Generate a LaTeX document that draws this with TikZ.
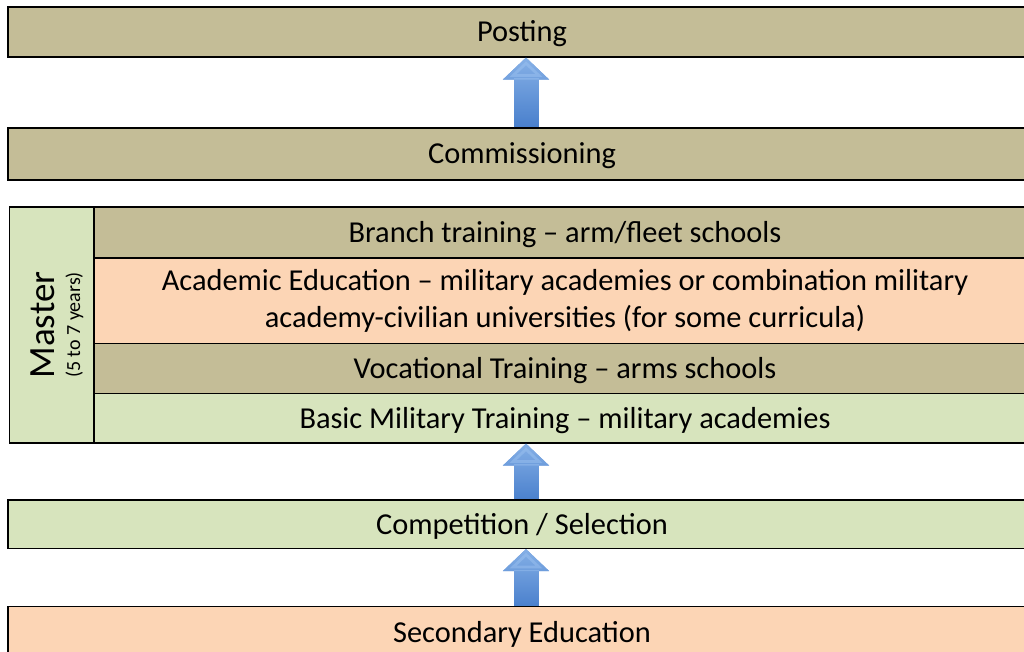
\documentclass[tikz,border=0pt]{standalone}
\usepackage{fontspec}
\setmainfont{Carlito}
\usetikzlibrary{arrows.meta,fadings}

\definecolor{tanbox}{RGB}{196,189,151}
\definecolor{peachbox}{RGB}{252,213,181}
\definecolor{greenbox}{RGB}{215,228,189}
\definecolor{arrowdark}{RGB}{62,119,200}
\definecolor{arrowlight}{RGB}{146,186,236}
\tikzfading[name=uplight, top color=transparent!0, bottom color=transparent!100]

\begin{document}
\begin{tikzpicture}[x=1pt, y=-1pt,
  stage/.style={draw=black, line width=1.1pt, rectangle, inner sep=0pt, align=center,
    font=\fontsize{30.4}{36.5}\selectfont},
  oneline/.style={stage, text height=19.5pt, text depth=0pt},
  wide/.style={oneline, minimum width=1028pt},
  rowbox/.style={oneline, minimum width=942pt},
  uparrow/.style={line width=25pt, draw=arrowdark, -{Triangle[length=22pt, width=45pt]},
    postaction={draw=arrowlight, path fading=uplight}}]

  \useasboundingbox (0,0) rectangle (1024,652);
  \clip (0,0) rectangle (1024,652);

  \newcommand\Cx{522};  %% centre of the full boxes
  \newcommand\Rx{565};  %% centre of the rows next to Master

  \node[wide, fill=tanbox, minimum height=50pt] (post) at (\Cx, 32) {Posting};
  \node[wide, fill=tanbox, minimum height=52pt] (comm) at (\Cx, 154) {Commissioning};

  %% the master block
  \node[stage, fill=greenbox, rotate=90, minimum width=236pt, minimum height=84.5pt,
    font=\fontsize{37}{26}\selectfont] (master) at (51.75, 325)
    {\rule{0pt}{34pt}Master\\ {\fontsize{20}{26}\selectfont (5 to 7 years)}};
  \node[rowbox, fill=tanbox, minimum height=51pt] (branch) at (\Rx, 232.5) {Branch training -- arm/fleet schools};
  \node[stage, minimum width=942pt, fill=peachbox, minimum height=85.5pt] (acad) at (\Rx, 300.75)
    {Academic Education -- military academies or combination military\\ academy-civilian universities (for some curricula)};
  \node[rowbox, fill=tanbox, minimum height=50pt] (voc) at (\Rx, 368.5) {Vocational Training -- arms schools};
  \node[rowbox, fill=greenbox, minimum height=49.5pt] (basic) at (\Rx, 418.25) {Basic Military Training -- military academies};

  \node[wide, fill=greenbox, minimum height=48.5pt] (comp) at (\Cx, 524.25) {Competition / Selection};
  \node[wide, fill=peachbox, minimum height=51.5pt] (sec) at (\Cx, 632.25) {Secondary Education};

  \coordinate (ax) at (526, 0);
  \draw[uparrow] (comm.north -| ax) -- (post.south -| ax);
  \draw[uparrow] (comp.north -| ax) -- (basic.south -| ax);
  \draw[uparrow] (sec.north -| ax) -- (comp.south -| ax);
\end{tikzpicture}
\end{document}
